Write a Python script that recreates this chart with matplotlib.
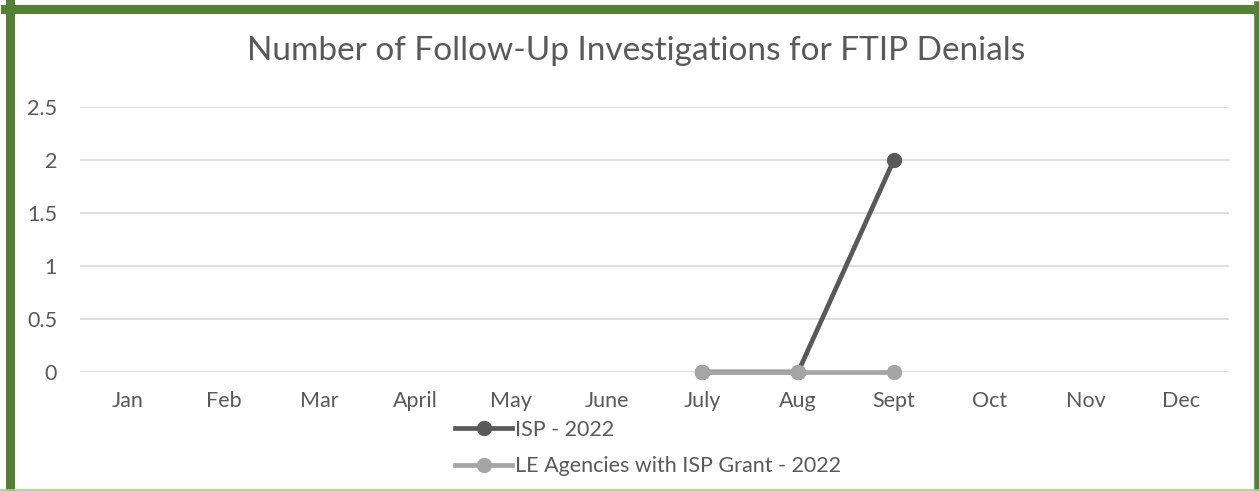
import matplotlib.pyplot as plt
import numpy as np
from matplotlib.lines import Line2D

months = ["Jan", "Feb", "Mar", "April", "May", "June", "July", "Aug", "Sept", "Oct", "Nov", "Dec"]
isp_2022 = [np.nan, np.nan, np.nan, np.nan, np.nan, np.nan, 0, 0, 2, np.nan, np.nan, np.nan]
le_agencies_2022 = [np.nan, np.nan, np.nan, np.nan, np.nan, np.nan, 0, 0, 0, np.nan, np.nan, np.nan]
yticks = [0, 0.5, 1, 1.5, 2, 2.5]
ytick_labels = ["0", "0.5", "1", "1.5", "2", "2.5"]

plt.rcParams['font.family'] = ['Lato', 'DejaVu Sans']
W, H = 1259, 491
fig = plt.figure(figsize=(W / 100, H / 100), dpi=100)
ax = fig.add_axes([80 / W, 1 - 372 / H, (1229 - 80) / W, (372 - 107) / H])

x = np.arange(len(months))
ax.plot(x, isp_2022, '-o', color='#595959', lw=3.4, ms=10, clip_on=False, label="ISP - 2022")
ax.plot(x, le_agencies_2022, '-o', color='#A5A5A5', lw=3.4, ms=10, clip_on=False,
        label="LE Agencies with ISP Grant - 2022")

ax.set_xlim(-0.5, 11.5)
ax.set_ylim(0, 2.5)
ax.set_xticks(x)
ax.set_xticklabels(months)
ax.set_yticks(yticks)
ax.set_yticklabels(ytick_labels)
ax.tick_params(length=0, labelsize=15.5, labelcolor='#595959')
ax.tick_params(axis='y', pad=16.5)
ax.tick_params(axis='x', pad=14)
ax.grid(True, axis='y', color='#D9D9D9', lw=1.2)
ax.set_axisbelow(True)
for s in ax.spines.values():
    s.set_visible(False)

fig.text(636 / W, 1 - 51 / H, "Number of Follow-Up Investigations for FTIP Denials",
         ha='center', va='center', fontsize=24, color='#595959')

ax.legend(loc='upper left', bbox_to_anchor=(455 / W, 1 - 420 / H), bbox_transform=fig.transFigure,
          frameon=False, fontsize=15.5, labelcolor='#595959', handlelength=2.65, handletextpad=0.15,
          labelspacing=0.75, borderpad=0, borderaxespad=0)

# green border around the chart
g = '#548235'
fig.add_artist(Line2D([9.5 / W, 9.5 / W], [0, 1 - 4 / H], color=g, lw=6.5, transform=fig.transFigure))
fig.add_artist(Line2D([5 / W, 1], [1 - 8.5 / H, 1 - 8.5 / H], color=g, lw=6.5, transform=fig.transFigure))
fig.add_artist(Line2D([1257 / W, 1257 / W], [0, 1 - 4 / H], color=g, lw=4, transform=fig.transFigure))
fig.add_artist(Line2D([0, 1], [1 / H, 1 / H], color='#A9D18E', lw=1.2, transform=fig.transFigure))

fig.savefig("out.png", dpi=100)
